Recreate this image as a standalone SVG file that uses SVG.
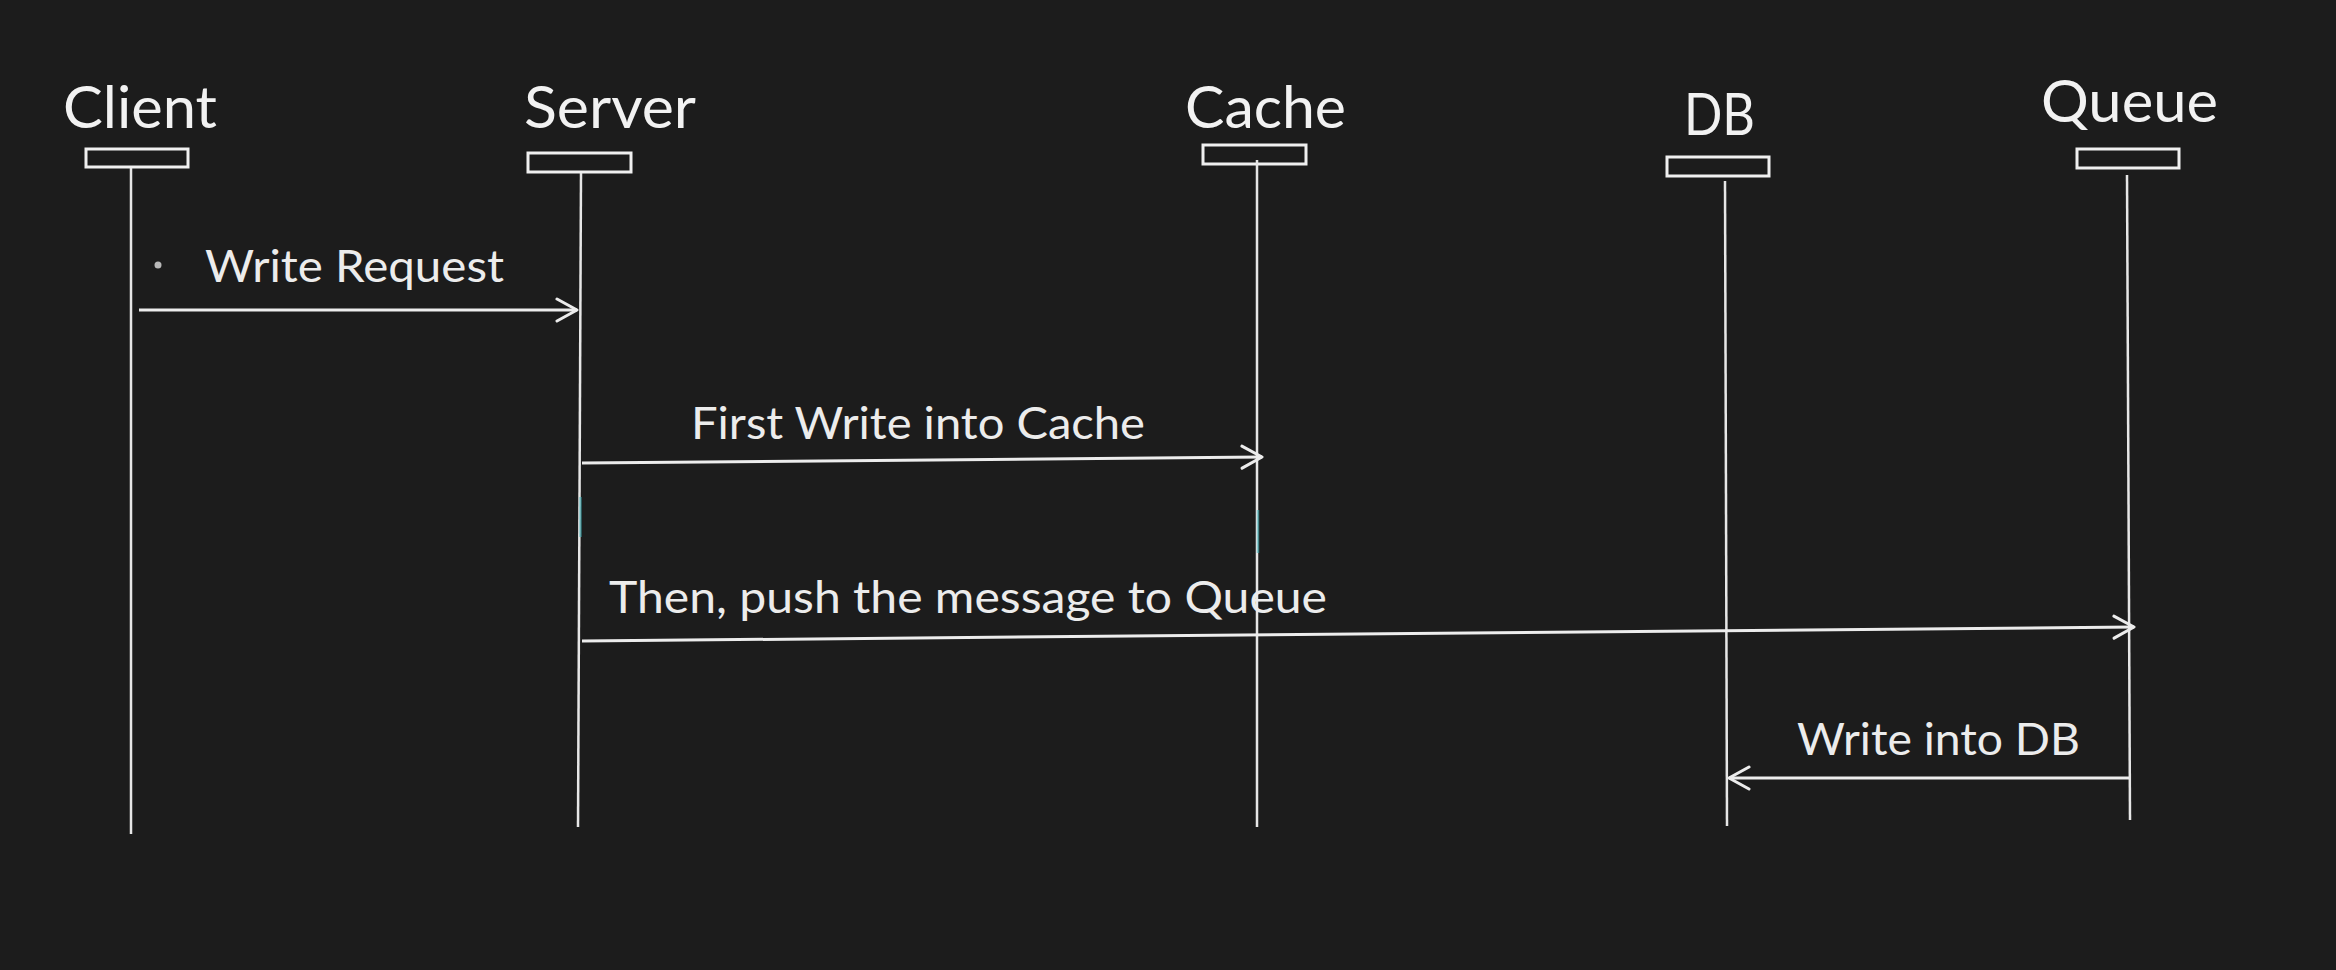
<svg xmlns="http://www.w3.org/2000/svg" width="2336" height="970" viewBox="0 0 2336 970">
<style>
.bg{fill:#1c1c1c}
.head{font-family:Lato,"Open Sans",sans-serif;font-size:58px;fill:#f2f2f2}
.lbl{font-family:Lato,"Open Sans",sans-serif;font-size:44px;fill:#ececec}
.box{fill:none;stroke:#f0f0f0;stroke-width:3}
.life{fill:none;stroke:#e6e6e6;stroke-width:2.5}
.msg{fill:none;stroke:#ececec;stroke-width:3;marker-end:url(#arr)}
.tint{fill:none;stroke:#3fb8c0;stroke-width:2.5;opacity:0.55}
</style>
<defs>
<marker id="arr" viewBox="-24 -14 26 28" refX="0" refY="0" markerWidth="26" markerHeight="28" markerUnits="userSpaceOnUse" orient="auto">
<path d="M -20 -11 L 0 0 L -20 11" fill="none" stroke="#ececec" stroke-width="3" stroke-linecap="round" stroke-linejoin="round"/>
</marker>
</defs>
<rect class="bg" x="0" y="0" width="2336" height="970"/>

<g id="client">
<text class="head" x="63" y="128" textLength="154" lengthAdjust="spacingAndGlyphs">Client</text>
<rect class="box" x="86" y="149" width="102" height="18"/>
<line class="life" x1="131" y1="168" x2="131" y2="834"/>
</g>
<g id="server">
<text class="head" x="524" y="128" textLength="172" lengthAdjust="spacingAndGlyphs">Server</text>
<rect class="box" x="528" y="153" width="103" height="19"/>
<line class="life" x1="581" y1="173" x2="578" y2="827"/>
<line class="tint" x1="580.5" y1="497" x2="580.5" y2="537"/>
</g>
<g id="cache">
<text class="head" x="1185" y="128" textLength="161" lengthAdjust="spacingAndGlyphs">Cache</text>
<rect class="box" x="1203" y="145" width="103" height="19"/>
<line class="life" x1="1257" y1="160" x2="1257" y2="827"/>
<line class="tint" x1="1258" y1="510" x2="1258" y2="553"/>
</g>
<g id="db">
<text class="head" x="1684" y="135" textLength="71" lengthAdjust="spacingAndGlyphs">DB</text>
<rect class="box" x="1667" y="157" width="102" height="19"/>
<line class="life" x1="1725" y1="181" x2="1727" y2="826"/>
</g>
<g id="queue">
<text class="head" x="2041" y="122" textLength="177" lengthAdjust="spacingAndGlyphs">Queue</text>
<rect class="box" x="2077" y="149" width="102" height="19"/>
<line class="life" x1="2127" y1="175" x2="2130" y2="820"/>
</g>

<g id="connectors">
<line class="msg" x1="139" y1="310" x2="577" y2="310"/>
<line class="msg" x1="582" y1="463" x2="1262" y2="457"/>
<line class="msg" x1="582" y1="641" x2="2134" y2="627"/>
<line class="msg" x1="2129" y1="778" x2="1729" y2="778"/>
</g>

<g id="labels">
<circle cx="158" cy="265" r="3.5" fill="#b8b8b8"/>
<text class="lbl" x="205" y="282" textLength="299" lengthAdjust="spacingAndGlyphs">Write Request</text>
<text class="lbl" x="691" y="439" textLength="454" lengthAdjust="spacingAndGlyphs">First Write into Cache</text>
<text class="lbl" x="609" y="613" textLength="718" lengthAdjust="spacingAndGlyphs">Then, push the message to Queue</text>
<text class="lbl" x="1797" y="755" textLength="283" lengthAdjust="spacingAndGlyphs">Write into DB</text>
</g>
</svg>
